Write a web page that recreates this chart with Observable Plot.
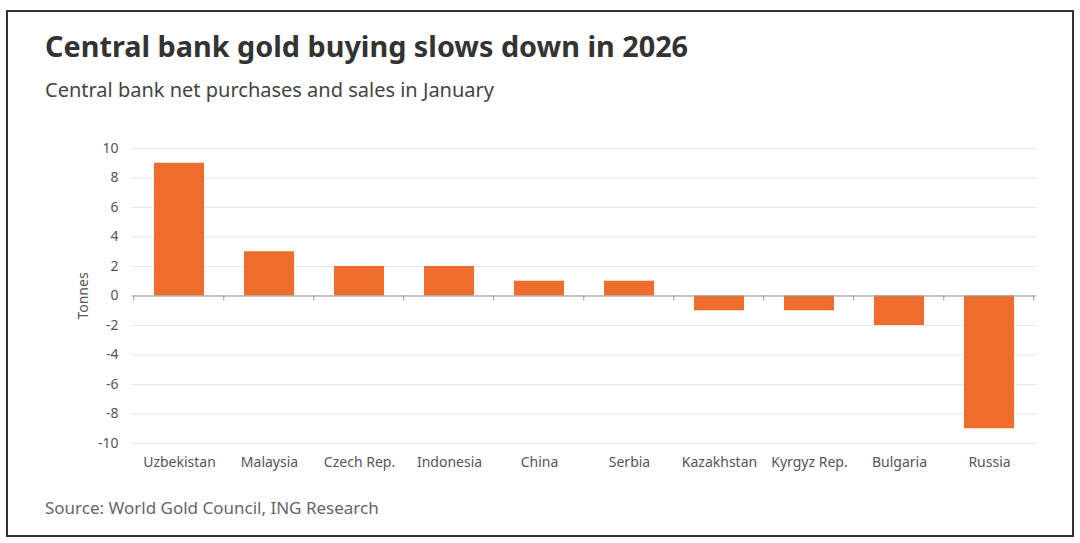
<!DOCTYPE html>
<html>
<head>
<meta charset="utf-8">
<script src="https://cdn.jsdelivr.net/npm/d3@7"></script>
<script src="https://cdn.jsdelivr.net/npm/@observablehq/plot@0.6"></script>
<style>
  html, body { margin: 0; padding: 0; background: #fff; }
  body { width: 1080px; height: 543px; position: relative; overflow: hidden; font-family: "Noto Sans", sans-serif; }
  #frame { position: absolute; left: 6px; top: 10px; width: 1064px; height: 523px; border: 2px solid #333; }
  #title { position: absolute; left: 45px; top: 26px; font-size: 28.8px; font-weight: 700; color: #333; }
  #subtitle { position: absolute; left: 45px; top: 76px; font-size: 20px; color: #444; }
  #source { position: absolute; left: 45px; top: 496px; font-size: 17px; color: #666; }
  #chart { position: absolute; left: 0; top: 130px; }
</style>
</head>
<body>
<div id="frame"></div>
<div id="title">Central bank gold buying slows down in 2026</div>
<div id="subtitle">Central bank net purchases and sales in January</div>
<div id="chart"></div>
<div id="source">Source: World Gold Council, ING Research</div>
<script>
const categories = ["Uzbekistan", "Malaysia", "Czech Rep.", "Indonesia", "China", "Serbia", "Kazakhstan", "Kyrgyz Rep.", "Bulgaria", "Russia"];
const tonnes = [9, 3, 2, 2, 1, 1, -1, -1, -2, -9];
const yTicks = [-10, -8, -6, -4, -2, 0, 2, 4, 6, 8, 10];

const data = categories.map((c, i) => ({country: c, value: tonnes[i]}));
const padInner = 0.45;

function boundaryTicks(index, scales) {
  const x = scales.x, y = scales.y;
  const step = x(categories[1]) - x(categories[0]);
  const half = step * padInner / 2;
  const xs = categories.map(c => x(c) - half);
  xs.push(x(categories[categories.length - 1]) + step - half);
  const g = d3.create("svg:g");
  const y0 = y(0);
  xs.forEach(px => {
    g.append("line").attr("x1", px).attr("x2", px).attr("y1", y0).attr("y2", y0 + 5)
      .attr("stroke", "#999").attr("stroke-width", 1);
  });
  return g.node();
}

const chart = Plot.plot({
  width: 1080,
  height: 350,
  marginLeft: 132,
  marginRight: 44,
  marginTop: 18,
  marginBottom: 37,
  style: { fontFamily: "Noto Sans, sans-serif", fontSize: "14px", color: "#555" },
  x: { domain: categories, paddingInner: padInner, paddingOuter: padInner / 2, label: null },
  y: { domain: [-10, 10], label: null },
  marks: [
    Plot.gridY(yTicks, { stroke: "#e6e6e6", strokeOpacity: 1 }),
    Plot.barY(data, { x: "country", y: "value", fill: "#EE6C2C" }),
    Plot.ruleY([0], { stroke: "#999", strokeWidth: 1 }),
    boundaryTicks,
    Plot.axisY(yTicks, { tickSize: 0, tickPadding: 14, fontSize: 14, tickFormat: d => String(d), label: "Tonnes", labelAnchor: "center", labelOffset: 54, labelArrow: "none" }),
    Plot.axisX({ tickSize: 0, tickPadding: 14, fontSize: 14, label: null })
  ]
});
document.getElementById("chart").appendChild(chart);
</script>
</body>
</html>
